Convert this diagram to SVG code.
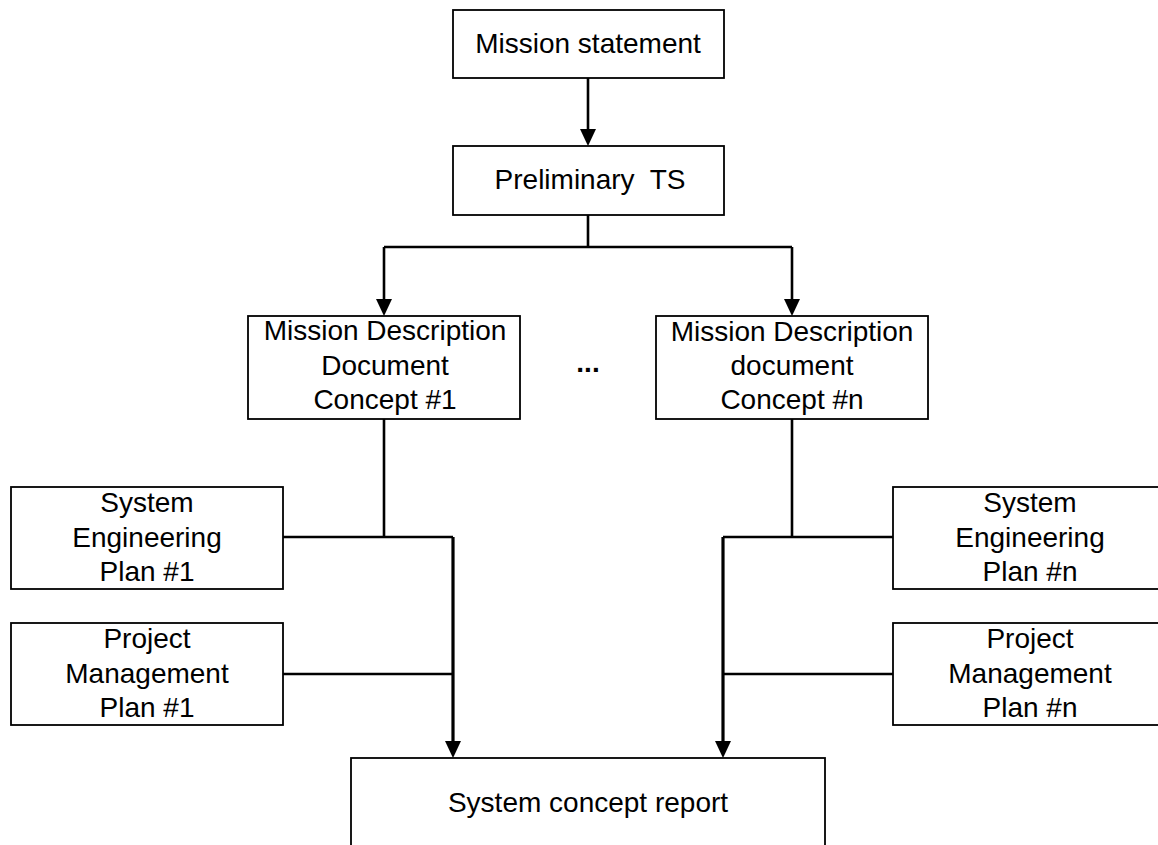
<svg xmlns="http://www.w3.org/2000/svg" width="1158" height="845" viewBox="0 0 1158 845">
<style>
.box{fill:#fff;stroke:#000;stroke-width:1.8}
text{font-family:"Liberation Sans",Arial,sans-serif;font-size:28px;fill:#000;text-anchor:middle}
.c{fill:none;stroke:#000;stroke-width:2.6}
.t{fill:none;stroke:#000;stroke-width:3.2}
</style>
<defs>
<marker id="ah" markerUnits="userSpaceOnUse" markerWidth="17" markerHeight="16" viewBox="0 0 17 16" refX="9" refY="8" orient="auto">
<path d="M0,0 L17,8 L0,16 z" fill="#000"/>
</marker>
</defs>
<rect width="1158" height="845" fill="#fff"/>
<g id="connectors">
<path class="c" d="M588,78 V138" marker-end="url(#ah)"/>
<path class="c" d="M588,215 V247 M384,247 H792"/>
<path class="c" d="M384,247 V308" marker-end="url(#ah)"/>
<path class="c" d="M792,247 V308" marker-end="url(#ah)"/>
<path class="c" d="M384,419 V537 M283,537 H453 M283,674 H453"/>
<path class="t" d="M453,537 V750" marker-end="url(#ah)"/>
<path class="c" d="M792,419 V537 M723,537 H893 M723,674 H893"/>
<path class="t" d="M723,537 V750" marker-end="url(#ah)"/>
</g>
<g id="mission">
<rect class="box" x="453" y="10" width="271" height="68"/>
<text x="588" y="53">Mission statement</text>
</g>
<g id="prelim">
<rect class="box" x="453" y="146" width="271" height="69"/>
<text x="590" y="189" xml:space="preserve">Preliminary  TS</text>
</g>
<g id="mdd1">
<rect class="box" x="248" y="316" width="272" height="103"/>
<text x="385" y="340">Mission Description</text>
<text x="385" y="375">Document</text>
<text x="385" y="409">Concept #1</text>
</g>
<g id="ellipsis">
<text x="588" y="372" font-weight="bold">...</text>
</g>
<g id="mddn">
<rect class="box" x="656" y="316" width="272" height="103"/>
<text x="792" y="341">Mission Description</text>
<text x="792" y="375">document</text>
<text x="792" y="409">Concept #n</text>
</g>
<g id="sep1">
<rect class="box" x="11" y="487" width="272" height="102"/>
<text x="147" y="512">System</text>
<text x="147" y="547">Engineering</text>
<text x="147" y="581">Plan #1</text>
</g>
<g id="pmp1">
<rect class="box" x="11" y="623" width="272" height="102"/>
<text x="147" y="648">Project</text>
<text x="147" y="683">Management</text>
<text x="147" y="717">Plan #1</text>
</g>
<g id="sepn">
<rect class="box" x="893" y="487" width="274" height="102"/>
<text x="1030" y="512">System</text>
<text x="1030" y="547">Engineering</text>
<text x="1030" y="581">Plan #n</text>
</g>
<g id="pmpn">
<rect class="box" x="893" y="623" width="274" height="102"/>
<text x="1030" y="648">Project</text>
<text x="1030" y="683">Management</text>
<text x="1030" y="717">Plan #n</text>
</g>
<g id="report">
<rect class="box" x="351" y="758" width="474" height="110"/>
<text x="588" y="812">System concept report</text>
</g>
</svg>
